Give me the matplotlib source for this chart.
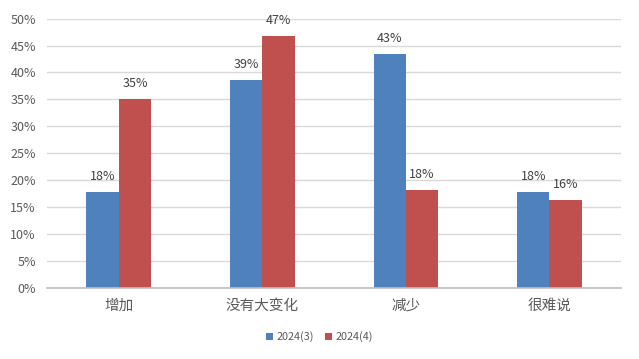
import matplotlib
matplotlib.use("Agg")
import matplotlib.pyplot as plt
import numpy as np
from matplotlib.ticker import FuncFormatter, MultipleLocator

plt.rcParams['font.family'] = ['Noto Sans CJK SC', 'DejaVu Sans']

categories = ['增加', '没有大变化', '减少', '很难说']
series_names = ['2024(3)', '2024(4)']
values_2024_3 = [17.8, 38.6, 43.4, 17.8]
values_2024_4 = [35.0, 46.7, 18.2, 16.3]
labels_2024_3 = ['18%', '39%', '43%', '18%']
labels_2024_4 = ['35%', '47%', '18%', '16%']
colors = ['#4F81BD', '#C0504D']

fig = plt.figure(figsize=(6.39, 3.59), dpi=100)
ax = fig.add_axes([0.0736, 0.199, 0.8984, 0.749])

x = np.arange(len(categories))
w = 0.225
b1 = ax.bar(x - w/2, values_2024_3, w, color=colors[0], label=series_names[0])
b2 = ax.bar(x + w/2, values_2024_4, w, color=colors[1], label=series_names[1])

for bars, labs in ((b1, labels_2024_3), (b2, labels_2024_4)):
    for r, lab in zip(bars, labs):
        ax.annotate(lab, (r.get_x() + r.get_width()/2, r.get_height()),
                    xytext=(0, 6.5), textcoords='offset points',
                    ha='center', va='bottom', fontsize=9, color='#404040')

ax.set_xlim(-0.5, len(categories) - 0.5)
ax.set_ylim(0, 50)
ax.yaxis.set_major_locator(MultipleLocator(5))
ax.yaxis.set_major_formatter(FuncFormatter(lambda v, p: f'{v:.0f}%'))
ax.set_xticks(x)
ax.set_xticklabels(categories, fontsize=10.5, color='#595959')
ax.tick_params(axis='y', labelsize=9, colors='#595959', length=0, pad=8)
ax.tick_params(axis='x', length=0, pad=8)
ax.grid(axis='y', color='#D9D9D9', linewidth=1)
ax.set_axisbelow(True)
for s in ['top', 'right', 'left']:
    ax.spines[s].set_visible(False)
ax.spines['bottom'].set_color('#BFBFBF')
ax.spines['bottom'].set_linewidth(1.2)

fig.legend(handles=[b1, b2], loc='center', bbox_to_anchor=(0.5, 0.062), ncol=2,
           frameon=False, fontsize=7.8, handlelength=0.7, handleheight=0.7,
           handletextpad=0.3, columnspacing=1.0, labelcolor='#595959')

fig.savefig('out.png', dpi=100)
